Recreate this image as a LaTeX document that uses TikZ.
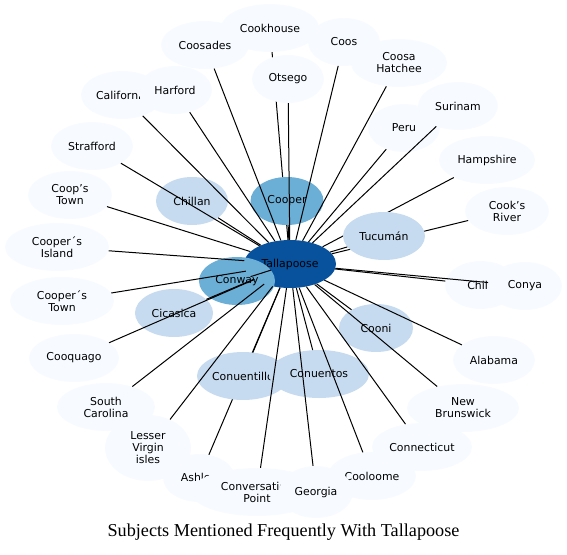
\documentclass[tikz,border=0pt]{standalone}
\usepackage{fontspec}
\setmainfont{DejaVu Sans}
\newfontfamily\titlefont{Liberation Serif}
\usepackage{tikz}
\usetikzlibrary{shapes.geometric}
\usepackage{xcolor}

\definecolor{hubblue}{HTML}{08519C}
\definecolor{midblue}{HTML}{6BAED6}
\definecolor{lightblue}{HTML}{C6DBEF}
\definecolor{paleblue}{HTML}{F7FBFF}

\tikzset{
        subject/.style={ellipse, fill=paleblue, draw=none, inner sep=0pt,
                minimum height=48pt, align=center,
                font=\fontsize{10.9}{12}\selectfont},
        link/.style={line width=1pt},
}

\begin{document}
\begin{tikzpicture}[x=1pt, y=-1pt]
                \useasboundingbox (0, 0) rectangle (567, 554);
                % hub
                \node[subject, fill=hubblue, minimum width=92pt] (tall) at (290, 264) {Tallapoose};
                % these links go under later nodes
                \node[subject, minimum width=98pt] (cookhouse) at (270, 28) {Cookhouse};
                \draw[link] (tall) -- (cookhouse);
                \node[subject, minimum width=96pt] (hampshire) at (487, 160) {Hampshire};
                \draw[link] (tall) -- (hampshire);
                \node[subject, minimum width=84pt] (cooksriver) at (507, 211) {Cook's\\River};
                \draw[link] (tall) -- (cooksriver);
                \node[subject, minimum width=72pt] (ashley) at (199, 478) {Ashley};
                \draw[link] (tall) -- (ashley);
                % outer ring
                \node[subject, minimum width=88pt] (coosades) at (205, 45) {Coosades};
                \node[subject, minimum width=72pt] (coos) at (344, 42) {Coos};
                \node[subject, minimum width=72pt] (otsego) at (288, 79) {Otsego};
                \node[subject, minimum width=96pt] (coosahatchee) at (399, 63) {Coosa\\Hatchee};
                \node[subject, minimum width=82pt] (california) at (122, 95) {California};
                \node[subject, minimum width=74pt] (harford) at (175, 90) {Harford};
                \node[subject, minimum width=80pt] (surinam) at (458, 106) {Surinam};
                \node[subject, minimum width=72pt] (peru) at (404, 128) {Peru};
                \node[subject, minimum width=82pt] (strafford) at (92, 146) {Strafford};
                \node[subject, minimum width=84pt] (coopstown) at (70, 195) {Coop's\\Town};
                \node[subject, minimum width=104pt] (coopersisland) at (57, 247) {Cooper´s\\Island};
                \node[subject, minimum width=72pt] (chile) at (481, 285) {Chile};
                \node[subject, minimum width=74pt] (conya) at (525, 286) {Conya};
                \node[subject, minimum width=104pt] (cooperstown) at (62, 301) {Cooper´s\\Town};
                \node[subject, minimum width=90pt] (cooquago) at (74, 358) {Cooquago};
                \node[subject, minimum width=82pt] (alabama) at (494, 360) {Alabama};
                \node[subject, minimum width=98pt] (southcarolina) at (106, 407) {South\\Carolina};
                \node[subject, minimum width=112pt] (newbrunswick) at (463, 408) {New\\Brunswick};
                \node[subject, minimum width=86pt, minimum height=66pt] (virginisles) at (148, 448) {Lesser\\Virgin\\isles};
                \node[subject, minimum width=132pt] (conversation) at (257, 492) {Conversation\\Point};
                \node[subject, minimum width=88pt] (cooloome) at (372, 476) {Cooloome};
                \node[subject, minimum width=74pt, minimum height=52pt] (georgia) at (316, 492) {Georgia};
                \node[subject, minimum width=100pt] (connecticut) at (422, 447) {Connecticut};
                % inner ring
                \node[subject, fill=midblue, minimum width=73pt] (cooper) at (287, 201) {Cooper};
                \node[subject, fill=lightblue, minimum width=72pt] (chillan) at (192, 201) {Chillan};
                \node[subject, fill=lightblue, minimum width=82pt] (tucuman) at (384, 236) {Tucumán};
                \node[subject, fill=lightblue, minimum width=78pt] (cicasica) at (174, 313) {Cicasica};
                \node[subject, fill=midblue, minimum width=76pt] (conway) at (237, 281) {Conway};
                \node[subject, fill=lightblue, minimum width=74pt] (cooni) at (376, 328) {Cooni};
                \node[subject, fill=lightblue, minimum width=92pt] (conuentillo) at (243, 376) {Conuentillo};
                \node[subject, fill=lightblue, minimum width=100pt] (conuentos) at (319, 374) {Conuentos};
                % links
                \draw[link] (tall) -- (coosades);
                \draw[link] (tall) -- (coos);
                \draw[link] (tall) -- (otsego);
                \draw[link] (tall) -- (coosahatchee);
                \draw[link] (tall) -- (california);
                \draw[link] (tall) -- (harford);
                \draw[link] (tall) -- (surinam);
                \draw[link] (tall) -- (peru);
                \draw[link] (tall) -- (strafford);
                \draw[link] (tall) -- (coopstown);
                \draw[link] (tall) -- (coopersisland);
                \draw[link] (tall) -- (chile);
                \draw[link] (tall) -- (conya);
                \draw[link] (tall) -- (cooperstown);
                \draw[link] (tall) -- (cooquago);
                \draw[link] (tall) -- (alabama);
                \draw[link] (tall) -- (southcarolina);
                \draw[link] (tall) -- (newbrunswick);
                \draw[link] (tall) -- (virginisles);
                \draw[link] (tall) -- (conversation);
                \draw[link] (tall) -- (cooloome);
                \draw[link] (tall) -- (georgia);
                \draw[link] (tall) -- (connecticut);
                \draw[link] (tall) -- (cooper);
                \draw[link] (tall) -- (chillan);
                \draw[link] (tall) -- (tucuman);
                \draw[link] (tall) -- (cicasica);
                \draw[link] (tall) -- (conway);
                \draw[link] (tall) -- (cooni);
                \draw[link] (tall) -- (conuentillo);
                \draw[link] (tall) -- (conuentos);
                % caption
                \node (title) at (283.5, 532) {\titlefont\fontsize{18.2}{20}\selectfont Subjects Mentioned Frequently With Tallapoose};
        \end{tikzpicture}
\end{document}
